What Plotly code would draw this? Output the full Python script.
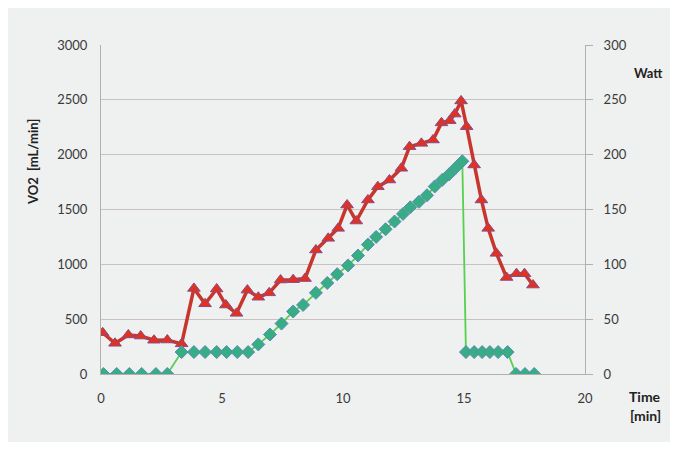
import plotly.graph_objects as go

# VO2 series (left axis)
vo2_time = [0.07, 0.58, 1.13, 1.64, 2.19, 2.74, 3.33, 3.84, 4.30, 4.78, 5.16, 5.60,
            6.05, 6.50, 6.95, 7.42, 7.94, 8.43, 8.88, 9.39, 9.80, 10.17, 10.55, 11.03,
            11.44, 11.92, 12.41, 12.75, 13.24, 13.72, 14.07, 14.41, 14.62, 14.88, 15.11,
            15.42, 15.72, 16.00, 16.34, 16.76, 17.17, 17.50, 17.85]
vo2_values = [376, 280, 356, 346, 308, 310, 275, 780, 640, 775, 629, 553,
              765, 700, 740, 857, 860, 870, 1131, 1237, 1328, 1541, 1395, 1587,
              1708, 1769, 1876, 2073, 2103, 2134, 2290, 2310, 2370, 2490, 2255,
              1906, 1587, 1328, 1100, 880, 915, 915, 811]

# Power series (right axis)
watt_time = [0.10, 0.65, 1.17, 1.68, 2.27, 2.74,
             3.33, 3.84, 4.30, 4.78, 5.19, 5.63, 6.08,
             6.50, 6.98, 7.46, 7.94, 8.35, 8.88, 9.35, 9.76, 10.21, 10.62, 11.03,
             11.37, 11.76, 12.13, 12.48, 12.78, 13.14, 13.47, 13.79, 14.10, 14.38,
             14.66, 14.93,
             15.08, 15.42, 15.75, 16.07, 16.41, 16.80,
             17.15, 17.52, 17.90]
watt_values = [0, 0, 0, 0, 0, 0,
               20, 20, 20, 20, 20, 20, 20,
               27, 36, 46, 57, 63, 74, 83, 91, 99, 108, 118,
               125, 132, 139, 146, 152, 157, 163, 171, 177, 182,
               188, 194,
               20, 20, 20, 20, 20, 20,
               0, 0, 0]

left_ticks = [0, 500, 1000, 1500, 2000, 2500, 3000]
right_ticks = [0, 50, 100, 150, 200, 250, 300]
x_ticks = [0, 5, 10, 15, 20]

BG = "#eff0f0"
FONT = "Lato, Open Sans, sans-serif"
TXT = "#3a3a3a"
GRID = "#c9c1c1"
AX = "#b5aeae"

fig = go.Figure()

fig.add_trace(go.Scatter(
    x=vo2_time, y=vo2_values, mode="lines+markers", yaxis="y",
    line=dict(color="#c8352c", width=3.5),
    marker=dict(symbol="triangle-up", size=11, color="#e2311d",
                line=dict(color="#8a4a8a", width=1)),
    showlegend=False))

fig.add_trace(go.Scatter(
    x=watt_time, y=watt_values, mode="lines+markers", yaxis="y2",
    line=dict(color="#55d04f", width=1.8),
    marker=dict(symbol="diamond", size=10, color="#36ad82",
                line=dict(color="#5a8ab5", width=1)),
    showlegend=False))


def px_x(p):
    return (p - 101) / 484


def px_y(p):
    return (374 - p) / 329


fig.update_layout(
    width=662, height=434,
    margin=dict(l=93, r=85, t=37, b=68),
    paper_bgcolor=BG,
    plot_bgcolor=BG,
    font=dict(family=FONT, size=13, color=TXT),
    xaxis=dict(range=[0, 20], tickvals=x_ticks, ticks="", showgrid=False,
               showline=True, linecolor=AX, linewidth=1, zeroline=False,
               ticklabelstandoff=12, tickfont=dict(size=13, color=TXT)),
    yaxis=dict(range=[0, 3000], tickvals=left_ticks, ticks="", showgrid=True,
               gridcolor=GRID, gridwidth=1, showline=True, linecolor=AX,
               linewidth=1, zeroline=False, ticklabelstandoff=10,
               tickfont=dict(size=13, color=TXT)),
    yaxis2=dict(range=[0, 300], tickvals=right_ticks, overlaying="y", side="right",
                showgrid=False, ticks="outside", ticklen=7, tickcolor=AX,
                showline=True, linecolor=AX, linewidth=1, zeroline=False,
                ticklabelstandoff=8, tickfont=dict(size=13, color=TXT)),
    annotations=[
        dict(text="<b>VO2  [mL/min]</b>", xref="paper", yref="paper",
             x=px_x(33), y=px_y(162), textangle=-90, xanchor="center",
             yanchor="middle", showarrow=False,
             font=dict(size=13, color="#222222")),
        dict(text="<b>Watt</b>", xref="paper", yref="paper",
             x=px_x(648), y=px_y(73), xanchor="center", yanchor="middle",
             showarrow=False, font=dict(size=13, color="#222222")),
        dict(text="<b>Time</b>", xref="paper", yref="paper",
             x=px_x(645), y=px_y(396), xanchor="center", yanchor="middle",
             showarrow=False, font=dict(size=14, color="#222222")),
        dict(text="<b>[min]</b>", xref="paper", yref="paper",
             x=px_x(645), y=px_y(415), xanchor="center", yanchor="middle",
             showarrow=False, font=dict(size=14, color="#222222")),
    ],
)

fig.write_html("out.html")
